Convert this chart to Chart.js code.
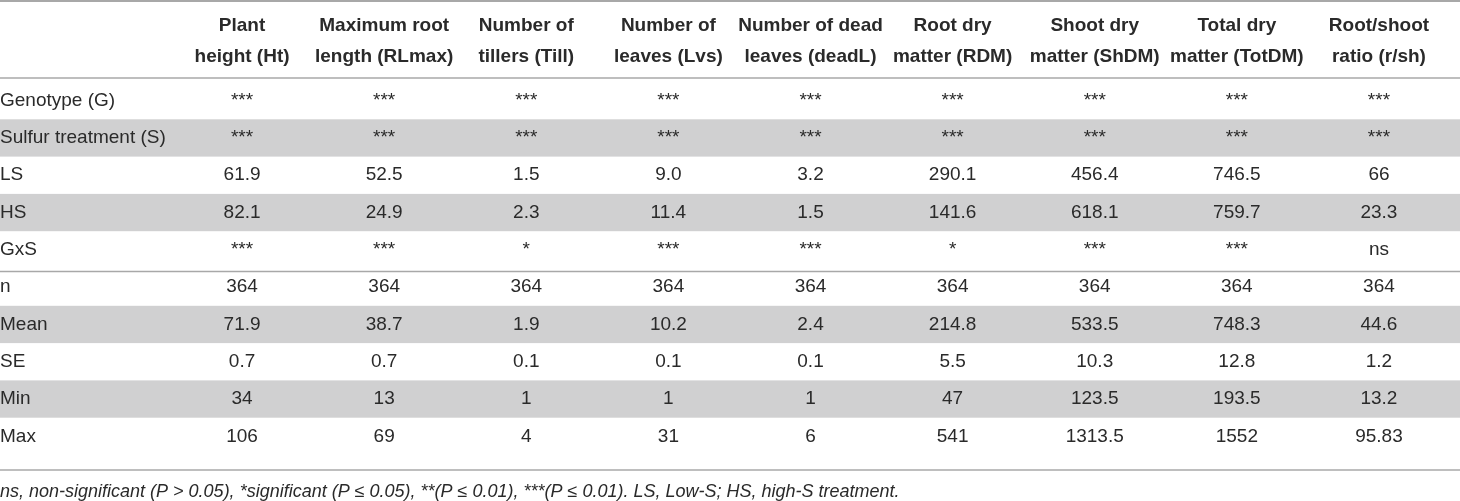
<!DOCTYPE html>
<html>
<head>
<meta charset="utf-8">
<script src="https://cdn.jsdelivr.net/npm/chart.js@4"></script>
<style>
  html, body { margin: 0; padding: 0; background: #fff; }
  #wrap { width: 1460px; height: 501px; }
</style>
</head>
<body>
<div id="wrap"><canvas id="sulfurTable"></canvas></div>
<script>
/* --------------------------------------
   TABLE DATA
-------------------------------------- */
const colKeys = ["Ht", "RLmax", "Till", "Lvs", "deadL", "RDM", "ShDM", "TotDM", "r/sh"];
const colHeaders = [
  ["Plant", "height (Ht)"],
  ["Maximum root", "length (RLmax)"],
  ["Number of", "tillers (Till)"],
  ["Number of", "leaves (Lvs)"],
  ["Number of dead", "leaves (deadL)"],
  ["Root dry", "matter (RDM)"],
  ["Shoot dry", "matter (ShDM)"],
  ["Total dry", "matter (TotDM)"],
  ["Root/shoot", "ratio (r/sh)"],
];
const rowLabels = ["Genotype (G)", "Sulfur treatment (S)", "LS", "HS", "GxS", "n", "Mean", "SE", "Min", "Max"];

const genotype = ["***", "***", "***", "***", "***", "***", "***", "***", "***"];
const sulfur = ["***", "***", "***", "***", "***", "***", "***", "***", "***"];
const lowS = ["61.9", "52.5", "1.5", "9.0", "3.2", "290.1", "456.4", "746.5", "66"];
const highS = ["82.1", "24.9", "2.3", "11.4", "1.5", "141.6", "618.1", "759.7", "23.3"];
const gxs = ["***", "***", "*", "***", "***", "*", "***", "***", "ns"];
const nObs = ["364", "364", "364", "364", "364", "364", "364", "364", "364"];
const mean = ["71.9", "38.7", "1.9", "10.2", "2.4", "214.8", "533.5", "748.3", "44.6"];
const se = ["0.7", "0.7", "0.1", "0.1", "0.1", "5.5", "10.3", "12.8", "1.2"];
const minVal = ["34", "13", "1", "1", "1", "47", "123.5", "193.5", "13.2"];
const maxVal = ["106", "69", "4", "31", "6", "541", "1313.5", "1552", "95.83"];

const rows = [genotype, sulfur, lowS, highS, gxs, nObs, mean, se, minVal, maxVal];
const shadedRows = ["Sulfur treatment (S)", "HS", "Mean", "Min"];

const footnote =
  "ns, non-significant (P > 0.05), *significant (P \u2264 0.05), **(P \u2264 0.01), ***(P \u2264 0.01). LS, Low-S; HS, high-S treatment.";

const TEXT = "#2a2a2a";
const FONT = "'Liberation Sans', Arial, Helvetica, sans-serif";
Chart.defaults.font.family = FONT;

/* --------------------------------------
   PLUGINS: row shading, rules, cell text
-------------------------------------- */
const tableBackground = {
  id: "tableBackground",
  beforeDraw(chart) {
    const { ctx, width, chartArea } = chart;
    const y = chart.scales.y;
    const half = (y.getPixelForValue(1) - y.getPixelForValue(0)) / 2;

    ctx.save();
    ctx.fillStyle = "#d0d0d1";
    shadedRows.forEach((label) => {
      const cy = y.getPixelForValue(rowLabels.indexOf(label));
      ctx.fillRect(0, cy - half, width, half * 2);
    });

    ctx.strokeStyle = "#a8a8a8";
    const rule = (py, lw) => {
      ctx.lineWidth = lw;
      ctx.beginPath();
      ctx.moveTo(0, py);
      ctx.lineTo(width, py);
      ctx.stroke();
    };
    rule(1, 2);
    rule(chartArea.top - 4, 1.5);
    const gap = (y.getPixelForValue(rowLabels.indexOf("GxS")) + y.getPixelForValue(rowLabels.indexOf("n"))) / 2;
    rule(gap + 3, 1.5);
    rule(chartArea.bottom + 15, 1.5);
    ctx.restore();
  },
};

const cellText = {
  id: "cellText",
  afterDatasetsDraw(chart) {
    const { ctx } = chart;
    ctx.save();
    ctx.font = "19px " + FONT;
    ctx.fillStyle = TEXT;
    ctx.textAlign = "center";
    ctx.textBaseline = "middle";
    chart.data.datasets.forEach((ds, i) => {
      chart.getDatasetMeta(i).data.forEach((pt, j) => {
        ctx.fillText(ds.data[j].v, pt.x, pt.y);
      });
    });
    ctx.restore();
  },
};

/* --------------------------------------
   CHART
-------------------------------------- */
new Chart(document.getElementById("sulfurTable"), {
  type: "scatter",
  data: {
    datasets: rows.map((vals, i) => ({
      label: rowLabels[i],
      data: vals.map((v, j) => ({ x: colKeys[j], y: rowLabels[i], v })),
      pointRadius: 0,
    })),
  },
  options: {
    responsive: true,
    maintainAspectRatio: false,
    animation: false,
    events: [],
    layout: { padding: { top: 0, right: 10, left: 0, bottom: 0 } },
    scales: {
      x: {
        type: "category",
        labels: colKeys,
        position: "top",
        offset: true,
        grid: { display: false, drawTicks: false },
        border: { display: false },
        ticks: {
          callback: (value, index) => colHeaders[index],
          font: { size: 19, weight: "bold", lineHeight: "31px" },
          color: TEXT,
          padding: 10,
          maxRotation: 0,
          autoSkip: false,
        },
        afterFit: (scale) => {
          scale.height = 82;
        },
      },
      y: {
        type: "category",
        labels: rowLabels,
        offset: true,
        grid: { display: false, drawTicks: false },
        border: { display: false },
        ticks: {
          crossAlign: "far",
          padding: 0,
          font: { size: 19 },
          color: TEXT,
          autoSkip: false,
        },
        afterFit: (scale) => {
          scale.width = 171;
        },
      },
    },
    plugins: {
      legend: { display: false },
      tooltip: { enabled: false },
      title: {
        display: true,
        position: "bottom",
        align: "start",
        text: footnote,
        color: TEXT,
        font: { size: 18, style: "italic", weight: "normal", lineHeight: 1 },
        padding: { top: 28, bottom: 0 },
      },
    },
  },
  plugins: [tableBackground, cellText],
});
</script>
</body>
</html>
